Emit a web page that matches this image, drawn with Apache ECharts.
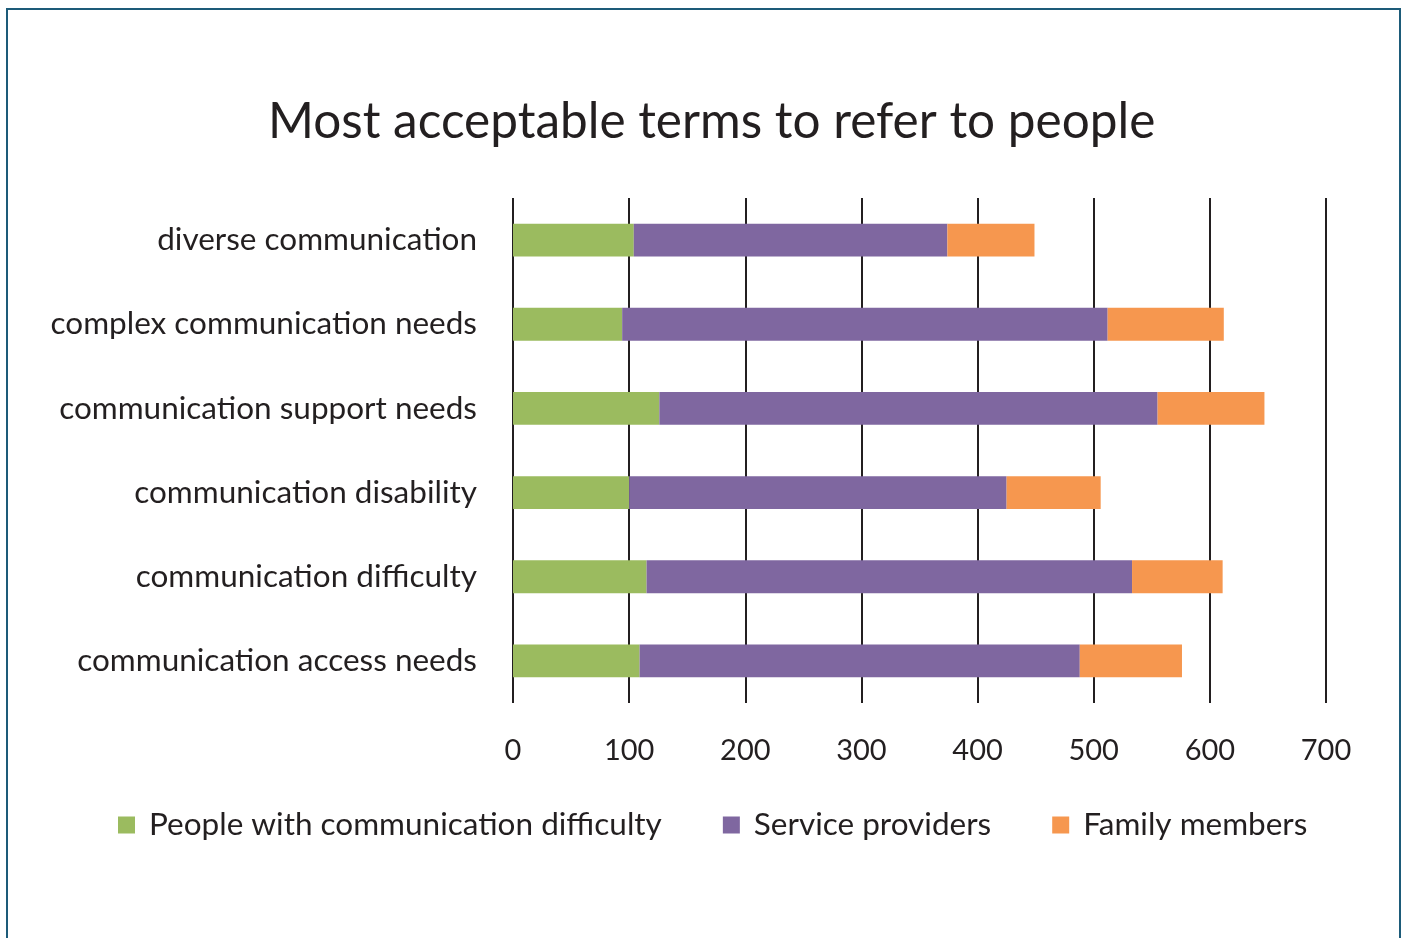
<!DOCTYPE html>
<html style="height: 100%">

<head>
    <meta charset="UTF-8" />
    <script type="text/javascript" src="https://cdn.jsdelivr.net/npm/echarts@6.0.0/dist/echarts.min.js"></script>
</head>

<body style="height: 100%; margin: 0; background: #fff">
    <div id="frame" style="position: absolute; left: 6px; top: 8px; right: 2px; bottom: -4px; border: 2px solid #1d5b79;"></div>
    <div id="container" style="position: absolute; left: 0; top: 0; width: 1403px; height: 938px"></div>
    <script>
        var categories = [
            'communication access needs',
            'communication difficulty',
            'communication disability',
            'communication support needs',
            'complex communication needs',
            'diverse communication'
        ];
        var people = [109, 115, 100, 126, 94, 104];
        var providers = [379, 418, 325, 429, 418, 270];
        var family = [88, 78, 81, 92, 100, 75];
        var xTicks = [0, 100, 200, 300, 400, 500, 600, 700];

        var dom = document.getElementById("container");
        var chart = echarts.init(dom);
        var font = 'Lato';
        var ink = '#231f20';

        var option = {
            animation: false,
            title: {
                text: 'Most acceptable terms to refer to people',
                left: 263,
                top: 92,
                textStyle: { fontFamily: font, fontSize: 49.5, fontWeight: 'normal', color: ink }
            },
            legend: {
                bottom: 92,
                left: 113,
                itemWidth: 17,
                itemHeight: 17,
                itemGap: 61,
                icon: 'rect',
                textStyle: { fontFamily: font, fontSize: 31.5, color: ink, padding: [0, 0, 0, 9] },
                data: ['People with communication difficulty', 'Service providers', 'Family members']
            },
            grid: { left: 513, right: 77, top: 198, bottom: 235 },
            xAxis: {
                type: 'value',
                min: xTicks[0],
                max: xTicks[xTicks.length - 1],
                interval: 100,
                axisLine: { show: false },
                axisTick: { show: false },
                splitLine: { show: true, lineStyle: { color: ink, width: 2 } },
                axisLabel: { margin: 33, fontFamily: font, fontSize: 29, color: ink }
            },
            yAxis: {
                type: 'category',
                data: categories,
                axisLine: { show: false },
                axisTick: { show: false },
                axisLabel: { margin: 36, fontFamily: font, fontSize: 31.5, color: ink }
            },
            series: [
                {
                    name: 'People with communication difficulty',
                    type: 'bar', stack: 'total', barWidth: '39%',
                    itemStyle: { color: '#9bbb5f' },
                    data: people
                },
                {
                    name: 'Service providers',
                    type: 'bar', stack: 'total',
                    itemStyle: { color: '#7f67a0' },
                    data: providers
                },
                {
                    name: 'Family members',
                    type: 'bar', stack: 'total',
                    itemStyle: { color: '#f6974f' },
                    data: family
                }
            ]
        };
        chart.setOption(option);
    </script>
</body>

</html>
